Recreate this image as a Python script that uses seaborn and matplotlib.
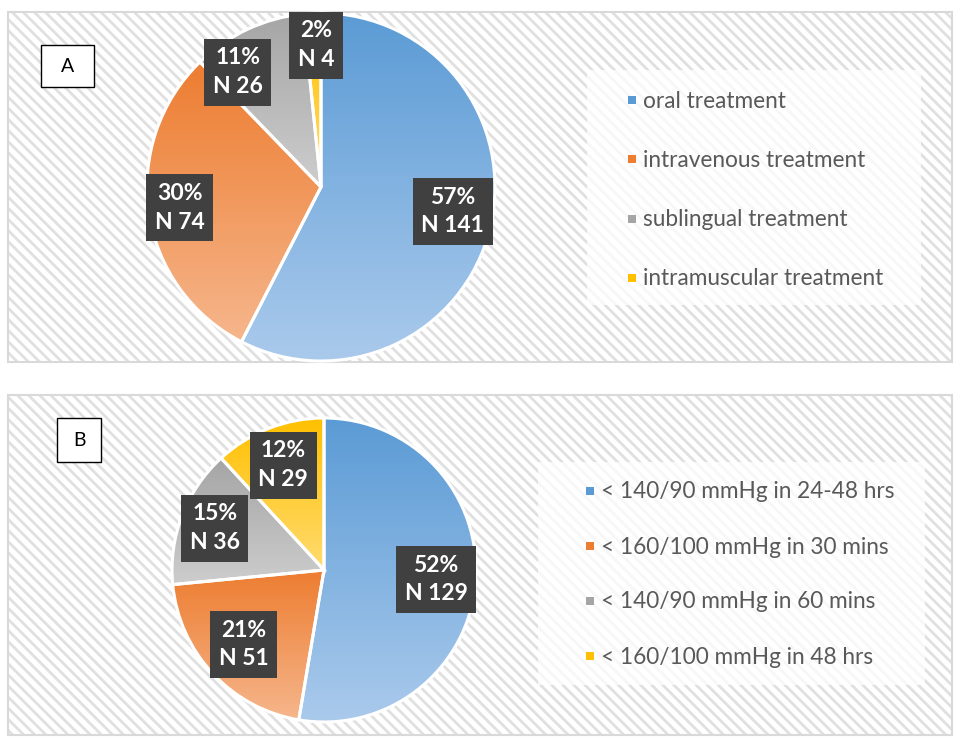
"""
治療法と降圧達成時間の円グラフ (A, B の2パネル)
使い方: python plot.py
"""

import numpy as np
import seaborn as sns
import matplotlib.pyplot as plt
from matplotlib.patches import Rectangle

# パネル A: 治療経路
treat_labels = ["oral treatment", "intravenous treatment",
                "sublingual treatment", "intramuscular treatment"]
treat_n = [141, 74, 26, 4]
treat_pct = [57, 30, 11, 2]

# パネル B: 目標血圧到達
bp_labels = ["< 140/90 mmHg in 24-48 hrs", "< 160/100 mmHg in 30 mins",
             "< 140/90 mmHg in 60 mins", "< 160/100 mmHg in 48 hrs"]
bp_n = [129, 51, 36, 29]
bp_pct = [52, 21, 15, 12]

# グラデーション (上: 濃い, 下: 薄い)
DARK = ["#5B9BD5", "#ED7D31", "#A5A5A5", "#FFC000"]
LIGHT = ["#AACAEC", "#F6B68C", "#CDCDCD", "#FFDB70"]

W, H = 955, 739

sns.set_style("white")
plt.rcParams['font.family'] = ['Lato', 'DejaVu Sans']
plt.rcParams['hatch.linewidth'] = 2.0


def _pie_axes(fig, cx, cy, r, lim=1.04):
    """ピクセル座標の中心・半径から円グラフ用のaxesを作る"""
    rr = r * lim
    ax = fig.add_axes([(cx - rr) / W, (H - cy - rr) / H, 2 * rr / W, 2 * rr / H])
    ax.set_xlim(-lim, lim)
    ax.set_ylim(-lim, lim)
    ax.set_aspect("equal")
    ax.axis("off")
    return ax


def draw_pie(ax, values, pct, label_r, label_nudge):
    wedges, _ = ax.pie(values, startangle=90, counterclock=False,
                       wedgeprops=dict(facecolor="none", edgecolor="white",
                                       linewidth=2.2, zorder=3))
    for i, w in enumerate(wedges):
        ext = w.get_path().get_extents(w.get_patch_transform())
        cmap = sns.blend_palette([LIGHT[i], DARK[i]], as_cmap=True)
        grad = np.linspace(0, 1, 256).reshape(-1, 1)
        im = ax.imshow(grad, cmap=cmap, origin="lower", aspect="auto",
                       extent=[ext.x0, ext.x1, ext.y0, ext.y1], zorder=2)
        im.set_clip_path(w)
        ang = np.deg2rad((w.theta1 + w.theta2) / 2 + label_nudge[i])
        ax.text(label_r[i] * np.cos(ang), label_r[i] * np.sin(ang),
                f"{pct[i]}%\nN {values[i]}", color="white", fontsize=16.5,
                fontweight="bold", ha="center", va="center", linespacing=1.45,
                zorder=5,
                bbox=dict(boxstyle="square,pad=0.38", fc="#404040", ec="none"))
    ax.set_xlim(-1.04, 1.04)
    ax.set_ylim(-1.04, 1.04)


def draw_panel(bg, y0, h, letter_box, letter, legend_box, leg_x, leg_y0, leg_dy, labels):
    bg.add_patch(Rectangle((8, y0), 944, h, facecolor="white", edgecolor="#E0E0E0",
                           hatch="\\\\\\", linewidth=0, zorder=0))
    bg.add_patch(Rectangle((8, y0), 944, h, facecolor="none", edgecolor="#D9D9D9",
                           linewidth=1.5, zorder=1))
    lx, ly, lw, lh = letter_box
    bg.add_patch(Rectangle((lx, ly), lw, lh, facecolor="white", edgecolor="black",
                           linewidth=1.0, zorder=2))
    bg.text(lx + lw / 2, ly + lh / 2, letter, fontsize=14, ha="center", va="center",
            color="black", zorder=3)
    bx, by, bw, bh = legend_box
    bg.add_patch(Rectangle((bx, by), bw, bh, facecolor="white", edgecolor="none",
                           alpha=0.75, zorder=2))
    for i, lab in enumerate(labels):
        y = leg_y0 + i * leg_dy
        bg.add_patch(Rectangle((leg_x, y - 4), 8, 8, facecolor=DARK[i], edgecolor="none",
                               zorder=3))
        bg.text(leg_x + 15, y + 1, lab, fontsize=16.3, color="#595959", ha="left",
                va="center", zorder=3)


fig = plt.figure(figsize=(W / 100, H / 100), dpi=100)
bg = fig.add_axes([0, 0, 1, 1])
bg.set_xlim(0, W)
bg.set_ylim(H, 0)
bg.axis("off")

draw_panel(bg, 12, 350, (41, 45, 53, 42), "A", (587, 70, 334, 235),
           628, 100, 59.3, treat_labels)
draw_panel(bg, 395, 340, (57, 418, 44, 44), "B", (538, 462, 387, 223),
           586, 491, 55, bp_labels)

ax_a = _pie_axes(fig, 321, 187, 174)
draw_pie(ax_a, treat_n, treat_pct, [0.77, 0.82, 0.815, 0.815], [3, 0, 11, -1])

ax_b = _pie_axes(fig, 324, 570, 152)
draw_pie(ax_b, bp_n, bp_pct, [0.74, 0.72, 0.77, 0.74], [0, 0, 0, 0])

fig.savefig("out.png", dpi=100)
